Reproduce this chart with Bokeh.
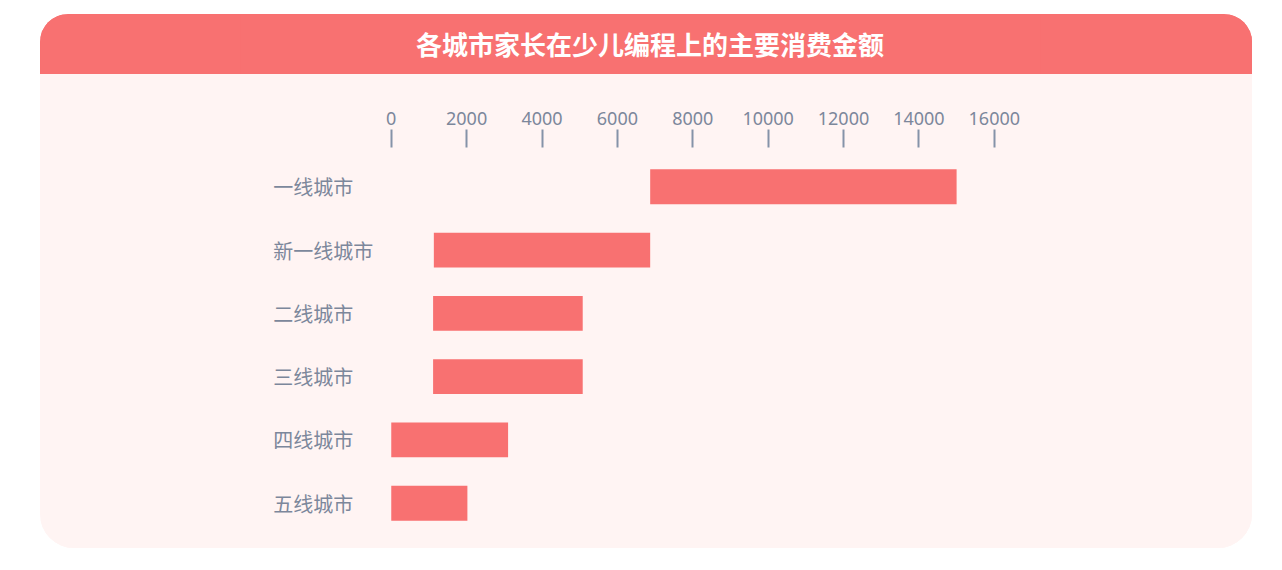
from bokeh.plotting import figure
from bokeh.models import (ColumnDataSource, FactorRange, Range1d, LinearAxis,
                          FixedTicker, NumeralTickFormatter, Spacer)
from bokeh.layouts import column, row
from bokeh.core.properties import value
from bokeh.embed import file_html
from bokeh.resources import INLINE

# ---- data ----
title_text = "各城市家长在少儿编程上的主要消费金额"
cities = ["一线城市", "新一线城市", "二线城市", "三线城市", "四线城市", "五线城市"]
spend_low = [6870, 1130, 1110, 1110, 0, 0]
spend_high = [15000, 6870, 5080, 5080, 3100, 2020]
tick_values = [0, 2000, 4000, 6000, 8000, 10000, 12000, 14000, 16000]

# ---- styles ----
RED = "#F87171"
BODY = "#FFF4F3"
TXT = "#7C879B"
CJK = "Noto Sans CJK SC"
W = 1212

# ---- header ----
head = figure(width=W, height=60, x_range=Range1d(0, 1), y_range=Range1d(0, 1),
              toolbar_location=None, output_backend="svg",
              x_axis_location=None, y_axis_location=None,
              min_border=0, min_border_left=0, min_border_right=0,
              min_border_top=0, min_border_bottom=0)
head.background_fill_color = RED
head.border_fill_color = RED
head.outline_line_color = None
head.xgrid.visible = False
head.ygrid.visible = False
head.styles = {"border-radius": "28px 28px 0 0", "overflow": "hidden",
               "background-color": RED}
hsrc = ColumnDataSource(dict(x=[0.512], y=[0.52], t=[title_text]))
head.text(x="x", y="y", text="t", source=hsrc, text_align="center",
          text_baseline="middle", text_color="white",
          text_font=value(CJK), text_font_size="26px", text_font_style="bold")

# ---- body ----
src = ColumnDataSource(dict(city=cities, low=spend_low, high=spend_high,
                            lx=[-3130] * len(cities)))

yr = FactorRange(factors=cities[::-1], range_padding=0.12,
                 range_padding_units="absolute")
p = figure(width=W, height=474, y_range=yr, x_range=Range1d(-4000, 17226),
           toolbar_location=None, output_backend="svg",
           x_axis_location=None, y_axis_location=None,
           min_border_left=200, min_border_right=212,
           min_border_top=73, min_border_bottom=6)
p.background_fill_color = BODY
p.border_fill_color = BODY
p.outline_line_color = None
p.xgrid.visible = False
p.ygrid.visible = False
p.styles = {"border-radius": "0 0 34px 34px", "overflow": "hidden",
            "background-color": BODY}

p.hbar(y="city", left="low", right="high", height=0.55, source=src,
       fill_color=RED, line_color=None)

p.text(x="lx", y="city", text="city", source=src, text_align="left",
       text_baseline="middle", text_color=TXT, text_font=value(CJK),
       text_font_size="20px")

ax = LinearAxis(ticker=FixedTicker(ticks=tick_values),
                formatter=NumeralTickFormatter(format="0"))
ax.axis_line_color = None
ax.major_tick_line_color = "#8593A8"
ax.major_tick_line_width = 2
ax.major_tick_out = 18
ax.major_tick_in = 0
ax.minor_tick_line_color = None
ax.major_label_standoff = 5
ax.major_label_text_font = "Noto Sans"
ax.major_label_text_font_size = "18px"
ax.major_label_text_color = TXT
p.add_layout(ax, "above")

layout = row(Spacer(width=40),
             column(Spacer(height=14), head, p, spacing=0), spacing=0)

open("out.html", "w").write(file_html(layout, INLINE))
